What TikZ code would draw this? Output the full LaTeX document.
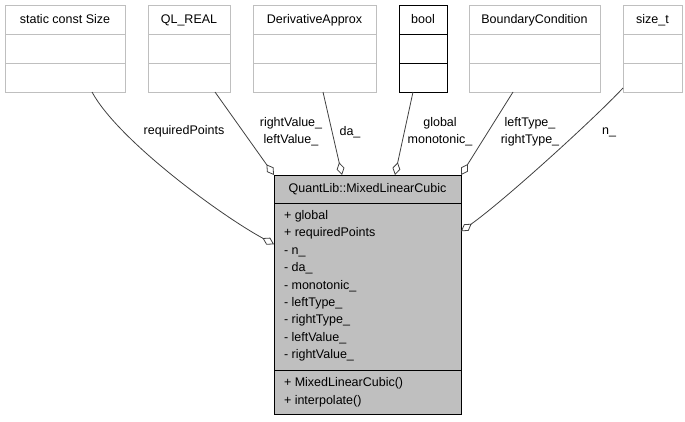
\documentclass[tikz,border=0pt]{standalone}
\usepackage{fontspec}
\setmainfont{Liberation Sans}
\usetikzlibrary{shapes.multipart,arrows.meta}
\definecolor{boxgray}{HTML}{BFBFBF}
\definecolor{edgegray}{HTML}{404040}
\newcommand{\titlestrut}{\rule[-10pt]{0pt}{28pt}}
\newcommand{\emptystrut}{\rule{0pt}{28pt}}
\begin{document}
\begin{tikzpicture}[x=1pt,y=-1pt,
	font=\fontsize{12.5}{17.4}\selectfont,
	typebox/.style={rectangle split, rectangle split parts=3, draw=boxgray, line width=1pt,
		inner xsep=4pt, inner ysep=0pt, outer sep=0pt, anchor=north west},
	mainbox/.style={rectangle split, rectangle split parts=3, draw=black, fill=boxgray, line width=1pt,
		inner xsep=10pt, inner ysep=0pt, outer sep=0pt, anchor=north west, minimum width=187pt,
		align=left, rectangle split part align={center,left,left}},
	member/.style={draw=edgegray, line width=0.8pt, -{Diamond[open,length=13pt,width=8pt]}},
	rolelabel/.style={align=center, inner sep=0pt}]
	\useasboundingbox (0,0) rectangle (685,421);
	
	% Draw the type boxes along the top
	\node[typebox, minimum width=120pt] (scs) at (5,5) {\titlestrut static const Size\nodepart{two}\emptystrut\nodepart{three}\emptystrut};
	\node[typebox, minimum width=82pt] (qlreal) at (148,5) {\titlestrut QL\_REAL\nodepart{two}\emptystrut\nodepart{three}\emptystrut};
	\node[typebox, minimum width=123pt] (deriv) at (253,5) {\titlestrut DerivativeApprox\nodepart{two}\emptystrut\nodepart{three}\emptystrut};
	\node[typebox, draw=black, minimum width=48pt] (bool) at (399,5) {\titlestrut bool\nodepart{two}\emptystrut\nodepart{three}\emptystrut};
	\node[typebox, minimum width=131pt] (bc) at (469,5) {\titlestrut BoundaryCondition\nodepart{two}\emptystrut\nodepart{three}\emptystrut};
	\node[typebox, minimum width=59pt] (sizet) at (623,5) {\titlestrut size\_t\nodepart{two}\emptystrut\nodepart{three}\emptystrut};
	
	% Draw the class box
	\node[mainbox] (mlc) at (274,175) {\rule[-10pt]{0pt}{27pt}QuantLib::MixedLinearCubic
		\nodepart{two}\rule{0pt}{16pt}+ global\\+ requiredPoints\\- n\_\\- da\_\\- monotonic\_\\- leftType\_\\- rightType\_\\- leftValue\_\\- rightValue\_\rule[-11pt]{0pt}{11pt}
		\nodepart{three}\rule{0pt}{16pt}+ MixedLinearCubic()\\+ interpolate()\rule[-10pt]{0pt}{10pt}};
	
	% Draw the member links
	\draw[member] ([xshift=27pt]scs.south) .. controls (118,140) and (220,215) .. ([yshift=50.5pt]mlc.west);
	\draw[member] ([xshift=26pt]qlreal.south) -- (mlc.north west);
	\draw[member] ([xshift=8.5pt]deriv.south) -- ([xshift=-25.5pt]mlc.north);
	\draw[member] ([xshift=-10pt]bool.south) -- ([xshift=27.5pt]mlc.north);
	\draw[member] ([xshift=-21.5pt]bc.south) -- (mlc.north east);
	\draw[member] ([yshift=4pt]sizet.south west) .. controls (595,118) and (505,200) .. ([yshift=63.5pt]mlc.east);
	
	% Add the member names
	\node[rolelabel] (lblreq) at (184,131) {requiredPoints};
	\node[rolelabel] (lblval) at (291,131.5) {rightValue\_\\leftValue\_};
	\node[rolelabel] (lblda) at (350,132) {da\_};
	\node[rolelabel] (lblglob) at (440,132) {global\\monotonic\_};
	\node[rolelabel] (lbltype) at (530,131.5) {leftType\_\\rightType\_};
	\node[rolelabel] (lbln) at (609,132) {n\_};
\end{tikzpicture}
\end{document}
